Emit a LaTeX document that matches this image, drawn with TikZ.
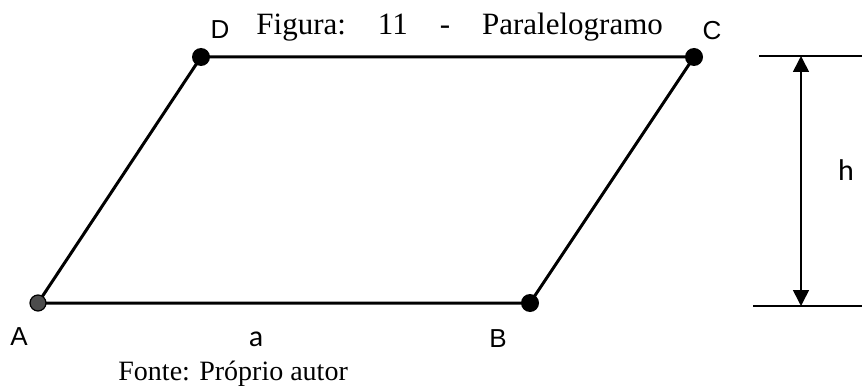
\documentclass[tikz,border=0pt]{standalone}
\usepackage{fontspec}
\setmainfont{Liberation Serif}
\newfontfamily\geofont{Liberation Sans}
\newfontfamily\calfont{Carlito}
\usetikzlibrary{arrows.meta}

\begin{document}
\begin{tikzpicture}[x=.5pt,y=-.5pt,>={Triangle[width=8pt,length=8pt]},
  side/.style={line width=1.5pt},
  vtx/.style={font=\geofont\fontsize{13}{15}\selectfont,anchor=base},
  dimlbl/.style={font=\calfont\fontsize{15}{17}\selectfont,anchor=base}]
\useasboundingbox (0,0) rectangle (862,390);
% vertices
\coordinate (A) at (38,303); \coordinate (B) at (530,303);
\coordinate (C) at (694,57); \coordinate (D) at (201,57);
\draw[side] (A)--(B)--(C)--(D)--cycle;
\fill[black] (B) circle (9) (C) circle (9) (D) circle (9);
\filldraw[fill=black!70,draw=black,line width=.6pt] (A) circle (8);
\node[vtx] (lA) at (19,345){A}; \node[vtx] (lB) at (498,347){B};
\node[vtx] (lC) at (712,40){C}; \node[vtx] (lD) at (220,39){D};
\node[dimlbl] (la) at (256,346){a};
% height
\coordinate (ht) at (801,56); \coordinate (hb) at (801,306);
\draw[line width=.8pt] (759,56)--(862,56); \draw[line width=.8pt] (753,306)--(862,306);
\draw[<->,line width=.8pt] (ht)--(hb);
\node[dimlbl] (lh) at (846,180){h};
% captions
\node[anchor=base west,inner sep=0,font=\fontsize{15.5}{18}\selectfont] (title) at (256,35)
  {Figura:\hspace{16pt}11\hspace{16pt}-\hspace{16pt}Paralelogramo};
\node[anchor=base west,inner sep=0,font=\fontsize{14}{16}\selectfont] (src) at (118,380){Fonte: Próprio autor};
\end{tikzpicture}
\end{document}
